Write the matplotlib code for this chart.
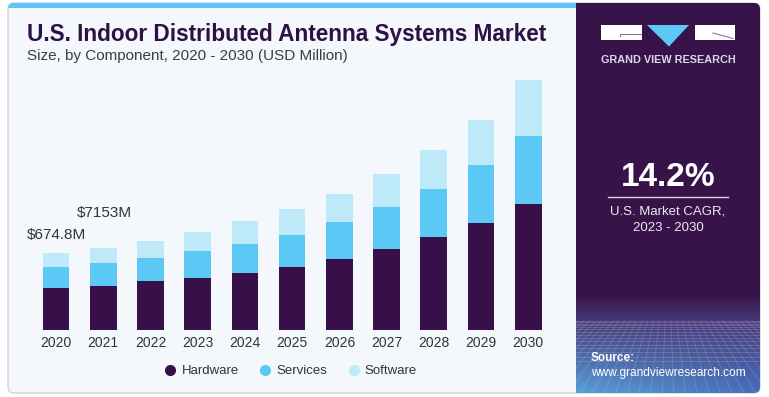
import numpy as np
import matplotlib
matplotlib.use("Agg")
import matplotlib.pyplot as plt
from matplotlib.patches import FancyBboxPatch, Rectangle, Polygon
from matplotlib.lines import Line2D

# ---------------- data ----------------
years = ["2020", "2021", "2022", "2023", "2024", "2025",
         "2026", "2027", "2028", "2029", "2030"]
hardware = [367, 386, 429, 458, 499, 551, 624, 709, 814, 939, 1103]
services = [181, 197, 201, 234, 254, 284, 319, 370, 420, 502, 595]
software = [127, 132, 151, 164, 201, 223, 245, 289, 341, 394, 487]
series_names = ["Hardware", "Services", "Software"]
value_labels = ["$674.8M", "$7153M"]          # labels on 2020 and 2021
title = "U.S. Indoor Distributed Antenna Systems Market"
subtitle = "Size, by Component, 2020 - 2030 (USD Million)"
cagr_value = "14.2%"
cagr_lines = ["U.S. Market CAGR,", "2023 - 2030"]
brand = "GRAND VIEW RESEARCH"
source_head = "Source:"
source_url = "www.grandviewresearch.com"

# ---------------- style ----------------
plt.rcParams['font.family'] = ['Liberation Sans', 'DejaVu Sans']
C_HW = "#37104a"
C_SV = "#5bc8f5"
C_SW = "#bde9f9"
C_PURPLE = "#38134a"
C_CARD = "#f4f8fc"

W, H = 769, 397
fig = plt.figure(figsize=(W / 100, H / 100), dpi=100)
fig.patch.set_facecolor("white")

bg = fig.add_axes([0, 0, 1, 1])
bg.set_xlim(0, W)
bg.set_ylim(H, 0)
bg.axis("off")
bg.set_zorder(0)

# card
card = FancyBboxPatch((8, 3), 752, 390, boxstyle="round,pad=0,rounding_size=6",
                      fc=C_CARD, ec="#cfd4da", lw=1.0, zorder=1)
bg.add_patch(card)
clip_card = FancyBboxPatch((8, 3), 752, 390, boxstyle="round,pad=0,rounding_size=6",
                           transform=bg.transData, fc="none", ec="none")
bg.add_patch(clip_card)
clip_card.set_visible(False)

strip = Rectangle((8, 3), 568, 5, fc=C_SV, ec="none", zorder=2)
bg.add_patch(strip)
strip.set_clip_path(clip_card)

# right panel gradient
x0p, x1p, y0p, y1p = 576, 760, 3, 393
ny, nx = int(y1p - y0p), int(x1p - x0p)
ys = np.linspace(y0p, y1p, ny)[:, None]
xs = np.linspace(0, 1, nx)[None, :]
top = np.array([56, 19, 74]) / 255
mid = np.array([72, 58, 122]) / 255
bot_l = np.array([88, 160, 215]) / 255
bot_r = np.array([72, 110, 185]) / 255
img = np.zeros((ny, nx, 3))
for c in range(3):
    t1 = np.clip((ys - 295) / (322 - 295), 0, 1)
    t2 = np.clip((ys - 322) / (393 - 322), 0, 1)
    bot = bot_l[c] * (1 - xs) + bot_r[c] * xs
    v = top[c] * (1 - t1) + mid[c] * t1
    v = v * (1 - t2) + bot * t2
    img[:, :, c] = v
im = bg.imshow(img, extent=(x0p, x1p, y1p, y0p), origin="upper",
               aspect="auto", zorder=2, interpolation="bilinear")
im.set_clip_path(clip_card)

# perspective grid decoration
for k in range(1, 16):
    yy = 321 + 0.4 * k ** 1.7
    if yy > 393:
        break
    ln = bg.plot([x0p, x1p], [yy, yy], color="white", alpha=0.18, lw=0.6, zorder=3)[0]
    ln.set_clip_path(clip_card)
vp = (668, 250)
for xb in np.linspace(440, 896, 40):
    t = (321 - vp[1]) / (393 - vp[1])
    xs_top = vp[0] + (xb - vp[0]) * t
    ln = bg.plot([xs_top, xb], [321, 393], color="white", alpha=0.16, lw=0.6, zorder=3)[0]
    ln.set_clip_path(clip_card)
bg.set_xlim(0, W)
bg.set_ylim(H, 0)

# logo
bg.add_patch(Rectangle((601, 25), 41, 15, fc="white", ec="none", zorder=4))
bg.add_patch(Polygon([[647, 25], [689, 25], [669, 46.5]], closed=True,
                     fc=C_SV, ec="none", zorder=4))
bg.add_patch(Rectangle((694.5, 25), 40, 15, fc="white", ec="none", zorder=4))
bg.plot([620, 641], [33.5, 33.5], color="#8a7a98", lw=0.8, zorder=5)
bg.plot([620, 620], [33.5, 36], color="#8a7a98", lw=0.8, zorder=5)
bg.plot([713, 733], [33, 38.5], color="#8a7a98", lw=0.8, zorder=5)
bg.text(668, 60, brand, ha="center", va="center", color="#ddd6e6",
        fontsize=7.8, fontweight="bold", zorder=5)

# CAGR
bg.text(668, 177, cagr_value, ha="center", va="center", color="white",
        fontsize=24, fontweight="bold", zorder=5)
bg.plot([608, 728], [197, 197], color="#d8d0e0", lw=1.0, zorder=5)
bg.text(668, 212, cagr_lines[0], ha="center", va="center", color="#eeeaf2",
        fontsize=9.5, zorder=5)
bg.text(668, 228, cagr_lines[1], ha="center", va="center", color="#eeeaf2",
        fontsize=9.5, zorder=5)

# source
bg.text(591, 358, source_head, ha="left", va="center", color="white",
        fontsize=8.5, fontweight="bold", zorder=5)
bg.text(591, 373, source_url, ha="left", va="center", color="white",
        fontsize=8.6, zorder=5)

# titles
bg.text(27, 35, title, ha="left", va="center", color="#2d1144",
        fontsize=16.3, fontweight="bold", zorder=5)
bg.text(27, 56, subtitle, ha="left", va="center", color="#3d3d3d",
        fontsize=11, zorder=5)

# ---------------- bars ----------------
L, R = 20, 565
base_y = 67
ax = fig.add_axes([L / W, base_y / H, (R - L) / W, 255 / H])
ax.set_zorder(2)
ax.patch.set_alpha(0)
ax.set_xlim(-0.762, 10.777)
ax.set_ylim(0, 2231)
for s in ax.spines.values():
    s.set_visible(False)
ax.set_yticks([])

x = np.arange(len(years))
hw = np.array(hardware)
sv = np.array(services)
sw = np.array(software)
bw = 0.565
ax.bar(x, hw, bw, color=C_HW, label=series_names[0])
ax.bar(x, sv, bw, bottom=hw, color=C_SV, label=series_names[1])
ax.bar(x, sw, bw, bottom=hw + sv, color=C_SW, label=series_names[2])

ax.set_xticks(x, years)
ax.tick_params(axis="x", length=0, pad=4, labelsize=10, labelcolor="#333333")

totals = hw + sv + sw
offsets = [12.5, 25.5]
for i, lab in enumerate(value_labels):
    ax.annotate(lab, xy=(i, totals[i]), xytext=(0.7, offsets[i]),
                textcoords="offset points", ha="center", va="center",
                fontsize=11, color="#333333")

handles = [Line2D([], [], marker="o", ls="", ms=7, mfc=c, mec=c)
           for c in (C_HW, C_SV, C_SW)]
ax.legend(handles, series_names, loc="center",
          bbox_to_anchor=(291 / W, 1 - 371 / H), bbox_transform=fig.transFigure,
          ncol=3, frameon=False, handlelength=0.8, handletextpad=0.45,
          columnspacing=1.6, fontsize=9.5, labelcolor="#333333")

fig.savefig("out.png", dpi=100, facecolor="white")
